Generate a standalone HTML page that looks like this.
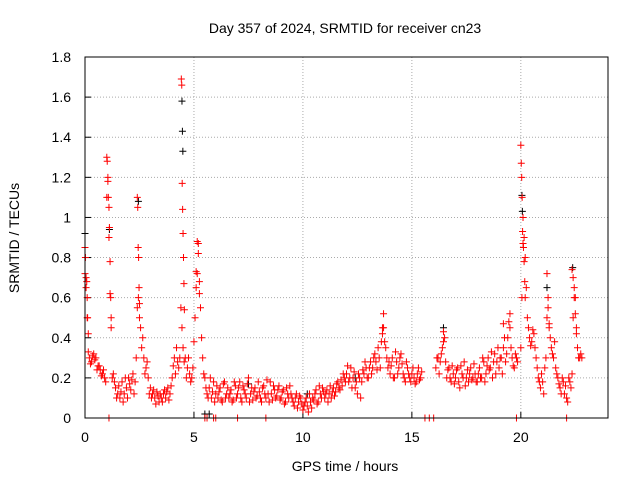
<!DOCTYPE html>
<html><head><meta charset="utf-8"><style>
body{margin:0;background:#fff}
svg{display:block;font-family:"Liberation Sans",sans-serif}
</style></head><body>
<svg id="chart" width="640" height="480">
<text x="345" y="33" font-size="14" text-anchor="middle">Day 357 of 2024, SRMTID for receiver cn23</text>
<text x="345" y="471" font-size="14" text-anchor="middle">GPS time / hours</text>
<text transform="translate(19,238) rotate(-90)" font-size="14" text-anchor="middle">SRMTID / TECUs</text>
<g id="grid"></g>
<g id="ticks"></g>
<g id="marks"></g>
<rect x="85" y="57" width="523" height="361" fill="none" stroke="#000"/>
</svg>
<script>
const xTicks=[0,5,10,15,20];
const yTicks=[0,0.2,0.4,0.6,0.8,1,1.2,1.4,1.6,1.8];
const yTickLabels=["0","0.2","0.4","0.6","0.8","1","1.2","1.4","1.6","1.8"];
const tStart=0, tStep=0.1, tStart2=0.05;
const mainValues=[
0.72,0.5,0.3,0.28,0.32,0.3,0.26,0.24,0.22,0.2,
1.1,0.9,0.45,0.22,0.15,0.12,0.1,0.18,0.12,0.15,
0.2,0.14,0.22,0.18,0.55,0.5,0.35,0.3,0.25,0.2,
0.15,0.12,0.1,0.13,0.08,0.1,0.12,0.1,0.15,0.12,
0.2,0.3,0.35,0.25,0.55,0.35,0.3,0.25,0.22,0.2,
0.38,0.65,0.82,0.55,0.3,0.2,0.12,0.15,0.1,0.18,
0.12,0.1,0.15,0.08,0.18,0.12,0.1,0.14,0.09,0.16,
0.12,0.18,0.08,0.14,0.1,0.2,0.12,0.09,0.15,0.11,
0.13,0.08,0.16,0.1,0.12,0.18,0.09,0.14,0.11,0.16,
0.1,0.14,0.08,0.12,0.16,0.1,0.06,0.12,0.08,0.1,
0.04,0.08,0.06,0.12,0.05,0.09,0.14,0.08,0.12,0.15,
0.1,0.14,0.12,0.1,0.15,0.13,0.18,0.14,0.16,0.2,
0.22,0.18,0.25,0.2,0.15,0.12,0.2,0.18,0.22,0.25,
0.2,0.28,0.25,0.32,0.24,0.3,0.38,0.45,0.35,0.25,
0.22,0.3,0.2,0.28,0.25,0.32,0.22,0.18,0.25,0.2,
0.22,0.2,0.18,0.25,0.2,null,null,null,null,null,
null,0.25,0.3,0.28,0.35,0.4,0.2,0.25,0.18,0.22,
0.2,0.25,0.15,0.22,0.28,0.2,0.18,0.25,0.2,0.22,
0.18,0.25,0.2,0.28,0.22,0.3,0.25,0.2,0.32,0.28,
0.25,0.3,0.35,0.28,0.4,0.45,0.3,0.25,0.3,null,
0.35,1.0,0.8,0.5,0.4,0.38,0.42,0.3,0.2,0.15,
0.18,0.25,0.5,0.45,0.35,0.3,0.25,0.2,0.15,0.2,
0.12,0.1,0.2,0.15,0.5,0.6,0.35,0.3,0.3];
const mainValues2=[
0.65,0.33,0.27,0.31,0.29,0.24,0.26,0.21,0.24,0.18,
1.18,0.62,0.2,0.18,0.1,0.16,0.13,0.08,0.2,0.1,
0.17,0.19,0.12,0.3,0.6,0.45,0.4,0.22,0.28,0.12,
0.1,0.14,0.07,0.11,0.12,0.08,0.14,0.13,0.09,0.16,
0.26,0.22,0.28,0.3,0.45,0.28,0.2,0.3,0.18,0.25,
0.5,0.72,0.68,0.4,0.22,0.15,0.1,0.2,0.13,0.08,
0.16,0.13,0.09,0.17,0.1,0.15,0.12,0.08,0.18,0.1,
0.15,0.1,0.16,0.12,0.17,0.08,0.15,0.13,0.1,0.18,
0.1,0.15,0.12,0.19,0.08,0.12,0.16,0.1,0.14,0.09,
0.13,0.07,0.15,0.1,0.12,0.08,0.1,0.05,0.11,0.07,
0.06,0.1,0.03,0.08,0.1,0.12,0.07,0.16,0.1,0.13,
0.12,0.08,0.16,0.13,0.11,0.17,0.15,0.19,0.22,0.18,
0.26,0.2,0.15,0.23,0.18,0.22,0.1,0.24,0.28,0.2,
0.25,0.22,0.3,0.28,0.35,0.25,0.42,0.38,0.3,0.28,
0.26,0.2,0.33,0.22,0.3,0.27,0.2,0.28,0.22,0.18,
0.25,0.17,0.22,0.19,0.23,null,null,null,null,null,
null,0.3,0.22,0.32,0.38,0.28,0.24,0.2,0.26,0.17,
0.24,0.18,0.26,0.2,0.16,0.24,0.22,0.19,0.27,0.18,
0.22,0.2,0.3,0.18,0.26,0.24,0.33,0.28,0.22,0.35,
0.3,0.22,0.4,0.32,0.48,0.35,0.26,0.32,0.28,null,
0.6,0.9,0.65,0.45,0.36,0.44,0.35,0.25,0.18,0.22,
0.12,0.3,0.55,0.4,0.32,0.38,0.22,0.17,0.12,0.18,
0.16,0.08,0.18,0.22,0.65,0.45,0.3,0.32];
const spikeTimes=[0,0.02,0.05,0.08,0.1,0.12,0.15,1,1.02,1.05,1.07,1.1,1.12,1.15,1.18,1.2,2.4,2.42,2.44,2.46,2.48,2.5,4.42,4.44,4.46,4.48,4.5,4.52,4.54,4.56,5.1,5.15,5.2,5.25,13.7,13.65,16.45,19.5,19.2,20,20.02,20.04,20.06,20.08,20.1,20.12,20.15,20.18,20.2,21.2,21.25,21.3,22.35,22.4,22.45,22.5,22.55];
const spikeValues=[0.85,0.8,0.7,0.68,0.6,0.5,0.42,1.3,1.28,1.2,1.1,1.05,0.95,0.78,0.6,0.5,1.1,1.05,0.85,0.8,0.65,0.57,1.69,1.66,1.17,1.04,0.92,0.8,0.67,0.54,0.73,0.88,0.87,0.62,0.52,0.45,0.43,0.52,0.47,1.36,1.27,1.2,1.1,0.93,0.87,0.85,0.78,0.68,0.6,0.72,0.6,0.47,0.74,0.7,0.6,0.52,0.42];
const blackTimes=[4.45,4.47,4.49,20.05,20.07,1.12,0,22.38,16.45,21.2,2.45,5.5,5.7,10.2,7.5,12.4];
const blackValues=[1.58,1.43,1.33,1.11,1.03,0.94,0.92,0.75,0.45,0.65,1.08,0.02,0.02,0.12,0.17,0.2];
const zeroTimes=[1.1,5.5,5.6,5.9,6.0,7.0,8.3,15.6,15.8,16.0,19.8,22.1];
const X0=85,X1=608,Y0=418,Y1=57,XMAX=24,YMAX=1.8;
const sx=t=>X0+(X1-X0)*t/XMAX, sy=v=>Y0-(Y0-Y1)*v/YMAX;
const NS="http://www.w3.org/2000/svg";
const grid=document.getElementById('grid'),ticks=document.getElementById('ticks'),marks=document.getElementById('marks');
function mk(tag,attrs,parent){const e=document.createElementNS(NS,tag);for(const k in attrs)e.setAttribute(k,attrs[k]);parent.appendChild(e);return e;}
xTicks.forEach(t=>{const x=sx(t);
 if(t>0){const g=mk('line',{x1:x,x2:x,y1:Y1,y2:Y0,stroke:'#aaa','stroke-dasharray':'1,2'},grid);
 
 }
 const tk=mk('line',{x1:x,x2:x,y1:Y0,y2:Y0-6,stroke:'#000'},ticks);
 
 
 const tx=mk('text',{x:x,y:Y0+24,'font-size':14,'text-anchor':'middle'},ticks);tx.textContent=t;
 
 });
yTicks.forEach((v,i)=>{const y=sy(v);
 if(v>0&&v<YMAX){const g=mk('line',{x1:X0,x2:X1,y1:y,y2:y,stroke:'#aaa','stroke-dasharray':'1,2'},grid);
 
 }
 const tk=mk('line',{x1:X0,x2:X0+6,y1:y,y2:y,stroke:'#000'},ticks);
 
 
 const tx=mk('text',{x:X0-14,y:y+5,'font-size':14,'text-anchor':'end'},ticks);tx.textContent=yTickLabels[i];
 
 });
function plus(t,v,color,name){const x=sx(t),y=sy(v);
 const p=mk('path',{d:`M${x-3.5},${y}H${x+3.5}M${x},${y-3.5}V${y+3.5}`,stroke:color,'stroke-width':1,fill:'none'},marks);
 
 }
blackTimes.forEach((t,i)=>plus(t,blackValues[i],'#000','black-point'));
mainValues.forEach((v,i)=>{if(v!==null)plus(tStart+i*tStep,v,'#f00','red-point');});
mainValues2.forEach((v,i)=>{if(v!==null)plus(tStart2+i*tStep,v,'#f00','red-point');});
spikeTimes.forEach((t,i)=>plus(t,spikeValues[i],'#f00','red-spike-point'));
zeroTimes.forEach(t=>plus(t,0,'#f00','zero-point'));
</script>
</body></html>
